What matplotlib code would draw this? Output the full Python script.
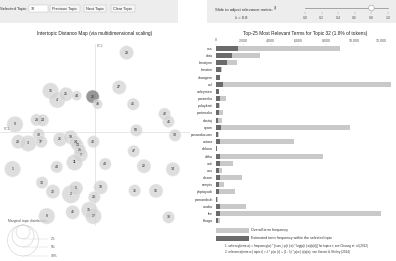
import numpy as np
import matplotlib
matplotlib.use("Agg")
import matplotlib.pyplot as plt
from matplotlib.patches import Rectangle, Circle

plt.rcParams['font.family'] = ['Liberation Sans', 'DejaVu Sans']

# ---------------- data ----------------
topic_labels = ["29", "27", "15", "4", "25", "44", "32", "48", "45", "42", "41", "28", "24", "9",
                "50", "39", "30", "20", "3", "37", "26", "19", "40", "14", "13", "31", "7", "11",
                "47", "43", "49", "22", "34", "1", "38", "12", "2", "5", "10", "36", "16", "23",
                "8", "46", "35", "17", "33"]
pc1 = [0.133, 0.102, -0.187, -0.159, -0.122, -0.077, -0.010, 0.011, 0.161, 0.293, 0.309, -0.246,
       -0.220, -0.337, 0.174, 0.337, -0.237, -0.323, -0.281, -0.226, -0.147, -0.102, -0.007,
       -0.083, -0.074, -0.063, -0.060, -0.086, 0.163, -0.161, 0.043, 0.206, 0.328, -0.347,
       -0.223, -0.177, -0.101, -0.080, 0.024, 0.167, 0.257, -0.003, -0.203, -0.094, -0.024,
       -0.007, 0.310]
pc2 = [0.334, 0.188, 0.173, 0.135, 0.159, 0.153, 0.149, 0.117, 0.117, 0.076, 0.044, 0.051,
       0.049, 0.032, 0.007, -0.014, -0.011, -0.041, -0.048, -0.041, -0.031, -0.022, -0.041,
       -0.041, -0.055, -0.076, -0.097, -0.128, -0.081, -0.147, -0.135, -0.144, -0.157, -0.156,
       -0.213, -0.251, -0.262, -0.237, -0.233, -0.247, -0.248, -0.275, -0.354, -0.338, -0.328,
       -0.354, -0.359]
topic_pct = [2.0, 2.0, 2.7, 2.7, 2.0, 1.0, 1.8, 1.0, 1.5, 1.5, 1.5, 1.5, 1.5, 2.7,
             1.5, 1.5, 1.5, 2.0, 2.7, 1.5, 2.0, 2.0, 1.5, 1.5, 1.5, 1.5, 2.0, 2.7,
             1.5, 1.5, 1.5, 2.0, 2.0, 2.7, 1.5, 2.0, 3.4, 2.0, 2.0, 1.5, 2.0, 1.5,
             2.7, 2.0, 2.7, 2.7, 1.5]
selected_topic = "32"

terms = ["oss", "dota", "kreatyne", "kreaten", "ahaagem", "asl", "aoleymen", "paramiku",
         "pulaykatt", "partenoko", "dastaj", "ayam", "posanducuan", "antara", "dolana",
         "altha", "unti", "anu", "olsam", "rampis", "phptayudi", "pamandruh", "anaba",
         "lee", "bhaga"]
overall_freq = [9020, 3250, 1560, 480, 310, 12690, 260, 770, 310, 550, 480, 9700, 240,
                5700, 120, 7780, 1250, 480, 1880, 650, 1440, 170, 2210, 11940, 290]
topic_freq = [1640, 1200, 840, 400, 310, 550, 240, 310, 260, 240, 215, 400, 190,
              360, 120, 360, 290, 240, 290, 240, 260, 120, 290, 360, 190]
freq_ticks = [0, 2000, 4000, 6000, 8000, 10000, 12000]
legend_pcts = [2, 5, 10]
lambda_ticks = [0.0, 0.2, 0.4, 0.6, 0.8, 1.0]
lambda_value = 0.8

# ---------------- figure ----------------
W, H = 396, 261
fig = plt.figure(figsize=(W / 100, H / 100), dpi=100)

def px_axes(x0, y0, x1, y1, **kw):
    return fig.add_axes([x0 / W, 1 - y1 / H, (x1 - x0) / W, (y1 - y0) / H], **kw)

deco = px_axes(0, 0, W, H)
deco.set_xlim(0, W)
deco.set_ylim(H, 0)
deco.axis('off')

PANEL = '#ededed'
# left control panel
deco.add_patch(Rectangle((0, 0), 178, 23, color=PANEL, lw=0))
deco.text(28, 8.6, "Selected Topic:", ha='right', va='center', fontsize=3.0, color='#333')
deco.add_patch(Rectangle((29, 5), 19, 7, facecolor='white', edgecolor='#bbb', lw=0.3))
deco.text(30.5, 8.6, "32", ha='left', va='center', fontsize=2.8, color='#333')
for (bx0, bx1, lab) in [(50, 80, "Previous Topic"), (84, 106, "Next Topic"), (111, 135, "Clear Topic")]:
    deco.add_patch(Rectangle((bx0, 5), bx1 - bx0, 7, facecolor='#f7f7f7', edgecolor='#bbb', lw=0.3))
    deco.text((bx0 + bx1) / 2, 8.6, lab, ha='center', va='center', fontsize=2.8, color='#333')

# right control panel
deco.add_patch(Rectangle((207, 0), W - 207, 23, color=PANEL, lw=0))
slide_txt = deco.text(215, 9.5, "Slide to adjust relevance metric:", ha='left', va='center',
                      fontsize=3.0, color='#333')
fig.canvas.draw()
bb = slide_txt.get_window_extent(renderer=fig.canvas.get_renderer())
end_x = deco.transData.inverted().transform((bb.x1, bb.y1))[0]
deco.text(end_x + 0.8, 7.6, "(2)", ha='left', va='center', fontsize=1.8, color='#333')
deco.text(235, 18.3, "\u03bb = %.1f" % lambda_value, ha='left', va='center', fontsize=3.0, color='#333')
sx0, sx1 = 305, 388
deco.plot([sx0, sx1], [8, 8], color='#999', lw=0.6)
for t in lambda_ticks:
    xx = sx0 + t * (sx1 - sx0)
    deco.plot([xx, xx], [12, 14], color='#999', lw=0.3)
    deco.text(xx, 18.3, "%.1f" % t, ha='center', va='center', fontsize=2.5, color='#555')
deco.add_patch(Circle((sx0 + lambda_value * (sx1 - sx0), 8), 2.8, facecolor='white', edgecolor='#999', lw=0.4, zorder=5))

# titles
deco.text(95, 33, "Intertopic Distance Map (via multidimensional scaling)", ha='center', va='center',
          fontsize=3.4, color='#222')
deco.text(305, 33, "Top-25 Most Relevant Terms for Topic 32 (1.8% of tokens)", ha='center', va='center',
          fontsize=3.4, color='#222')

# ---------------- scatter ----------------
scale = 237.5  # px per PC unit
cx, cy = 95, 132
sax = px_axes(0, 40, 190, H)
sax.set_xlim((0 - cx) / scale, (190 - cx) / scale)
sax.set_ylim((cy - H) / scale, (cy - 40) / scale)
sax.axis('off')
sax.plot([(0 - cx) / scale, (190 - cx) / scale], [0, 0], color='#d5d5d5', lw=0.4, zorder=0)
sax.plot([0, 0], [(cy - 225) / scale, (cy - 44) / scale], color='#d5d5d5', lw=0.4, zorder=0)
sax.text((4 - cx) / scale, 0.003, "PC1", fontsize=2.4, color='#777', ha='left', va='bottom')
sax.text((97 - cx) / scale, (cy - 46) / scale, "PC2", fontsize=2.4, color='#777', ha='left', va='center')

k = 49.0  # px radius for proportion 1.0 (sqrt scale)
radii_px = [k * np.sqrt(p / 100) for p in topic_pct]
sizes = [(2 * r * 0.72) ** 2 for r in radii_px]
colors = ['#6f6f6f' if l == selected_topic else '#d2d2d2' for l in topic_labels]
sax.scatter(pc1, pc2, s=sizes, c=colors, alpha=0.72, edgecolors='#f2f2f2', linewidths=0.4, zorder=2)
for l, x, y in zip(topic_labels, pc1, pc2):
    sax.text(x, y, l, fontsize=2.5, ha='center', va='center', color='#222', zorder=3)

# marginal legend
deco.text(8, 221, "Marginal topic distribution", fontsize=2.4, color='#555', ha='left', va='center')
for p in legend_pcts:
    r = k * np.sqrt(p / 100)
    deco.add_patch(Circle((23, 225 + r), r, facecolor='none', edgecolor='#cfcfcf', lw=0.4))
    deco.plot([23, 48], [225 + 2 * r, 225 + 2 * r], color='#cfcfcf', lw=0.3)
    deco.text(51, 225 + 2 * r, "%d%%" % p, fontsize=2.4, color='#555', ha='left', va='center')

# ---------------- bar chart ----------------
bx0 = 215.5
px_per = 13.83 / 1000
bax = px_axes(bx0, 44.7, bx0 + 13000 * px_per, 224.3)
ypos = np.arange(len(terms))
bax.barh(ypos, overall_freq, height=0.7, color='#c9c9c9', zorder=2)
bax.barh(ypos, topic_freq, height=0.7, color='#6b6b6b', zorder=3)
bax.set_xlim(0, 13000)
bax.set_ylim(len(terms) - 0.5, -0.5)
for s in bax.spines.values():
    s.set_visible(False)
bax.xaxis.tick_top()
bax.set_xticks(freq_ticks)
bax.set_xticklabels(["{:,}".format(t) for t in freq_ticks], fontsize=2.5, color='#555')
bax.tick_params(axis='x', length=1, width=0.3, color='#aaa', pad=0.8)
bax.set_yticks(ypos)
bax.set_yticklabels(terms, fontsize=2.6, color='#333')
bax.tick_params(axis='y', length=0, pad=2)
bax.set_facecolor('none')

# bar legend and footnotes
deco.add_patch(Rectangle((216, 228), 33, 5, color='#c9c9c9', lw=0))
deco.text(251, 230.5, "Overall term frequency", fontsize=2.6, color='#333', ha='left', va='center')
deco.add_patch(Rectangle((216, 236), 33, 5, color='#6b6b6b', lw=0))
deco.text(251, 238.5, "Estimated term frequency within the selected topic", fontsize=2.6, color='#333',
          ha='left', va='center')
deco.text(225, 245.7, "1. saliency(term w) = frequency(w) * [sum_t p(t | w) * log(p(t | w)/p(t))] for topics t; see Chuang et. al (2012)",
          fontsize=2.2, color='#333', ha='left', va='center')
deco.text(225, 251.7, "2. relevance(term w | topic t) = \u03bb * p(w | t) + (1 - \u03bb) * p(w | t)/p(w); see Sievert & Shirley (2014)",
          fontsize=2.2, color='#333', ha='left', va='center')

fig.savefig("out.png", dpi=100)
